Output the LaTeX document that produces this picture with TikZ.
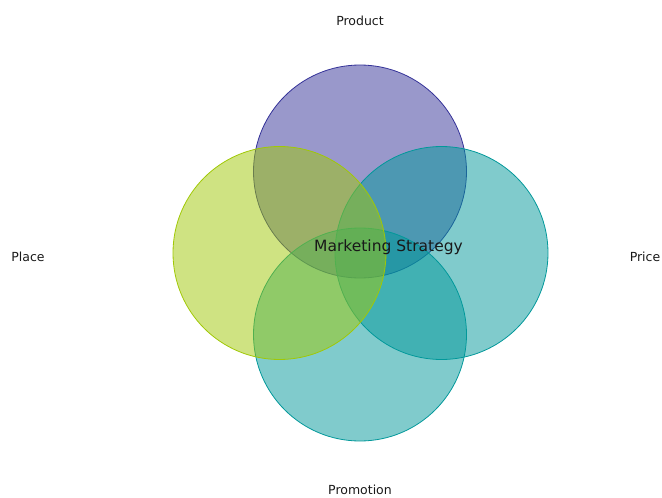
\documentclass[tikz,border=0pt]{standalone}
\usepackage{fontspec}
\setmainfont{DejaVu Sans}
\definecolor{cprod}{RGB}{52,50,152}
\definecolor{cplace}{RGB}{160,200,6}
\definecolor{cteal}{RGB}{2,152,154}
\begin{document}
\begin{tikzpicture}[x=1pt,y=-1pt,
  setc/.style={circle,minimum size=213pt,inner sep=0pt,fill opacity=0.5,draw opacity=1,line width=0.8pt},
  lbl/.style={font=\fontsize{12.5}{14}\selectfont,text=black!90,inner sep=0pt}]
\useasboundingbox (0,0) rectangle (662,498);
\node[setc,fill=cprod,draw=cprod] (prod) at (360,171.5) {};
\node[setc,fill=cteal,draw=cteal] (price) at (441.5,253) {};
\node[setc,fill=cteal,draw=cteal] (promo) at (360,334.5) {};
\node[setc,fill=cplace,draw=cplace] (place) at (279.5,253) {};
\node[lbl] (lprod) at (360,21) {Product};
\node[lbl] (lplace) at (28,257) {Place};
\node[lbl] (lprice) at (645,257) {Price};
\node[lbl] (lpromo) at (360,490) {Promotion};
\node[font=\fontsize{15.5}{18}\selectfont,text=black!90,inner sep=0pt] (center) at (388.5,247) {Marketing Strategy};
\end{tikzpicture}
\end{document}
